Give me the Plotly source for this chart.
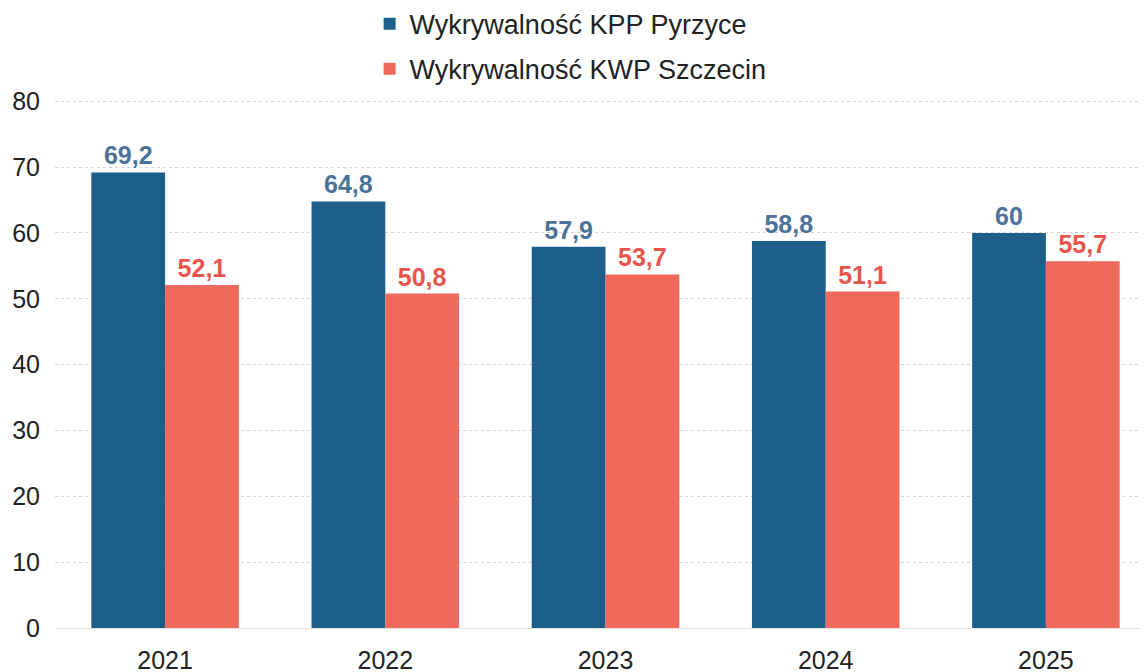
import plotly.graph_objects as go

years = ["2021", "2022", "2023", "2024", "2025"]
kpp_pyrzyce = [69.2, 64.8, 57.9, 58.8, 60]
kwp_szczecin = [52.1, 50.8, 53.7, 51.1, 55.7]
series_names = ["Wykrywalność KPP Pyrzyce", "Wykrywalność KWP Szczecin"]
y_ticks = [0, 10, 20, 30, 40, 50, 60, 70, 80]

def fmt(v):
    return f"{v:g}".replace(".", ",")

FONT = "Liberation Sans"

fig = go.Figure()
fig.add_trace(go.Bar(
    x=years, y=kpp_pyrzyce, name=series_names[0], legendgroup="a",
    marker=dict(color="#1d5f8a", line=dict(width=0)),
    text=[fmt(v) for v in kpp_pyrzyce], textposition="outside",
    textfont=dict(color="#4b7299", size=25, family=FONT, weight="bold"),
    cliponaxis=False,
))
fig.add_trace(go.Bar(
    x=years, y=kwp_szczecin, name=series_names[1], legendgroup="b",
    marker=dict(color="#ef6a5c", line=dict(width=0)),
    text=[fmt(v) for v in kwp_szczecin], textposition="outside",
    textfont=dict(color="#e8554d", size=25, family=FONT, weight="bold"),
    cliponaxis=False,
))

fig.update_layout(
    width=1148, height=672,
    margin=dict(l=47, r=0, t=92, b=52, autoexpand=False),
    paper_bgcolor="white", plot_bgcolor="white",
    barmode="group", bargap=0.33, bargroupgap=0,
    font=dict(family=FONT, size=25, color="#222222"),
    showlegend=True,
    legend=dict(
        orientation="v", x=0.315, xanchor="left", xref="container",
        y=1.19, yanchor="top", yref="paper",
        bgcolor="rgba(0,0,0,0)",
        font=dict(size=27, color="#222222"),
        tracegroupgap=7, itemwidth=30,
    ),
)
fig.update_xaxes(
    range=[-0.5, 4.5], showline=False, ticks="", showgrid=False,
    tickfont=dict(size=25, color="#222222"), ticklabelstandoff=15,
)
fig.update_yaxes(
    range=[0, 80.2], tickvals=y_ticks, showline=False, ticks="",
    showgrid=True, gridcolor="#d4d4d4", griddash="dot", gridwidth=1,
    zeroline=True, zerolinecolor="#e0e0e0", zerolinewidth=1,
    tickfont=dict(size=25, color="#222222"), ticklabelstandoff=14,
)

fig.write_html("out.html")
